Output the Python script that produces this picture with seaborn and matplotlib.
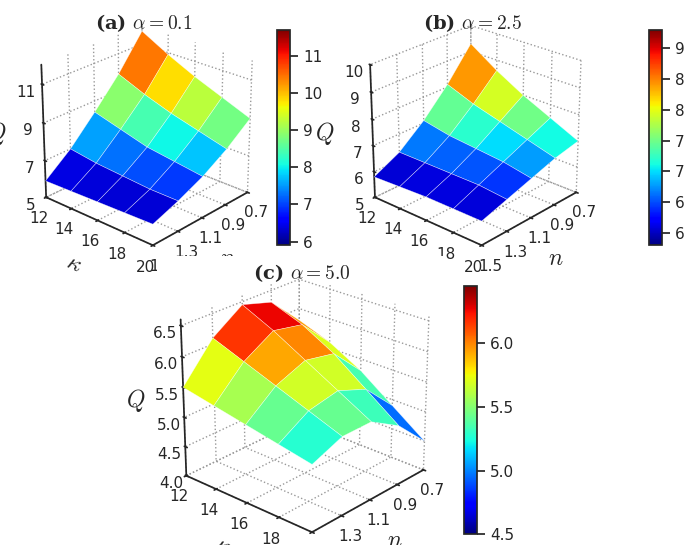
import matplotlib
matplotlib.use("Agg")
import matplotlib.pyplot as plt
import numpy as np
import seaborn as sns
from matplotlib import cm, colors

sns.set_theme(style="white")
plt.rcParams["font.family"] = "DejaVu Sans"
plt.rcParams["mathtext.fontset"] = "cm"

KAPPA = [12, 14, 16, 18, 20]
N_VALUES = [0.7, 0.9, 1.1, 1.3, 1.5]

# rows: kappa 12..20, cols: n 0.7..1.5
Q_A = [
    [11.7, 9.9, 8.4, 7.0, 5.9],
    [10.9, 9.3, 8.0, 6.8, 5.95],
    [10.2, 8.8, 7.6, 6.7, 6.0],
    [9.6, 8.4, 7.4, 6.6, 6.05],
    [9.0, 8.0, 7.2, 6.6, 6.1],
]
Q_B = [
    [9.3, 8.1, 7.1, 6.3, 5.8],
    [8.6, 7.7, 6.9, 6.3, 5.85],
    [8.0, 7.4, 6.8, 6.3, 5.9],
    [7.5, 7.1, 6.7, 6.3, 5.9],
    [7.0, 6.8, 6.5, 6.2, 5.9],
]
Q_C = [
    [5.8, 6.3, 6.45, 6.1, 5.5],
    [5.6, 6.1, 6.2, 5.9, 5.4],
    [5.3, 5.8, 5.9, 5.7, 5.3],
    [4.9, 5.4, 5.6, 5.5, 5.2],
    [4.5, 5.0, 5.3, 5.3, 5.1],
]

PANELS = [
    ("(a)", "0.1", Q_A, [0.0, 0.53, 0.42, 0.45], [0.405, 0.55, 0.018, 0.395],
     [5, 7, 9, 11], (5, 12), [6, 7, 8, 9, 10, 11]),
    ("(b)", "2.5", Q_B, [0.47, 0.53, 0.44, 0.45], [0.948, 0.55, 0.018, 0.395],
     [5, 6, 7, 8, 9, 10], (5, 10), [6.0, 6.5, 7.0, 7.5, 8.0, 8.5, 9.0]),
    ("(c)", "5.0", Q_C, [0.2, 0.0, 0.48, 0.53], [0.678, 0.02, 0.018, 0.455],
     [4.0, 4.5, 5.0, 5.5, 6.0, 6.5], (4, 6.6), [4.5, 5.0, 5.5, 6.0]),
]

fig = plt.figure(figsize=(6.85, 5.45), dpi=100)
K, N = np.meshgrid(KAPPA, N_VALUES, indexing="ij")

for tag, alpha, q, rect, crect, zticks, zlim, cticks in PANELS:
    Q = np.array(q)
    ax = fig.add_axes(rect, projection="3d")
    norm = colors.Normalize(Q.min(), Q.max())
    ax.plot_surface(K, N, Q, cmap="jet", norm=norm, edgecolor=(1, 1, 1, 0.6),
                    linewidth=0.4, shade=False, rstride=1, cstride=1, antialiased=True)
    ax.set_xlim(12, 20)
    ax.set_ylim(1.5, 0.7)
    ax.set_zlim(*zlim)
    ax.set_xticks([12, 14, 16, 18, 20])
    ax.set_yticks([1.5, 1.3, 1.1, 0.9, 0.7])
    ax.set_zticks(zticks)
    ax.set_box_aspect((1, 1, 1.0))
    ax.view_init(elev=25, azim=-48)
    ax.zaxis._axinfo["juggled"] = (1, 2, 0)
    ax.set_xlabel(r"$\kappa$", fontsize=17, labelpad=0)
    ax.set_ylabel(r"$n$", fontsize=17, labelpad=0)
    ax.zaxis.set_rotate_label(False)
    ax.set_zlabel(r"$Q$", fontsize=17, rotation=0, labelpad=0)
    ax.tick_params(labelsize=11, pad=-1)
    for axis in (ax.xaxis, ax.yaxis, ax.zaxis):
        axis.set_pane_color((1, 1, 1, 1))
        axis._axinfo["grid"]["linestyle"] = ":"
        axis._axinfo["grid"]["color"] = (0.6, 0.6, 0.6, 1)
    ax.set_title(f"{tag} $\\alpha={alpha}$", fontsize=14, fontweight="bold",
                 family="DejaVu Serif", y=0.97)
    cax = fig.add_axes(crect)
    cb = fig.colorbar(cm.ScalarMappable(norm=norm, cmap="jet"), cax=cax, ticks=cticks)
    cb.ax.tick_params(labelsize=11)

fig.savefig("out.png", dpi=100)
